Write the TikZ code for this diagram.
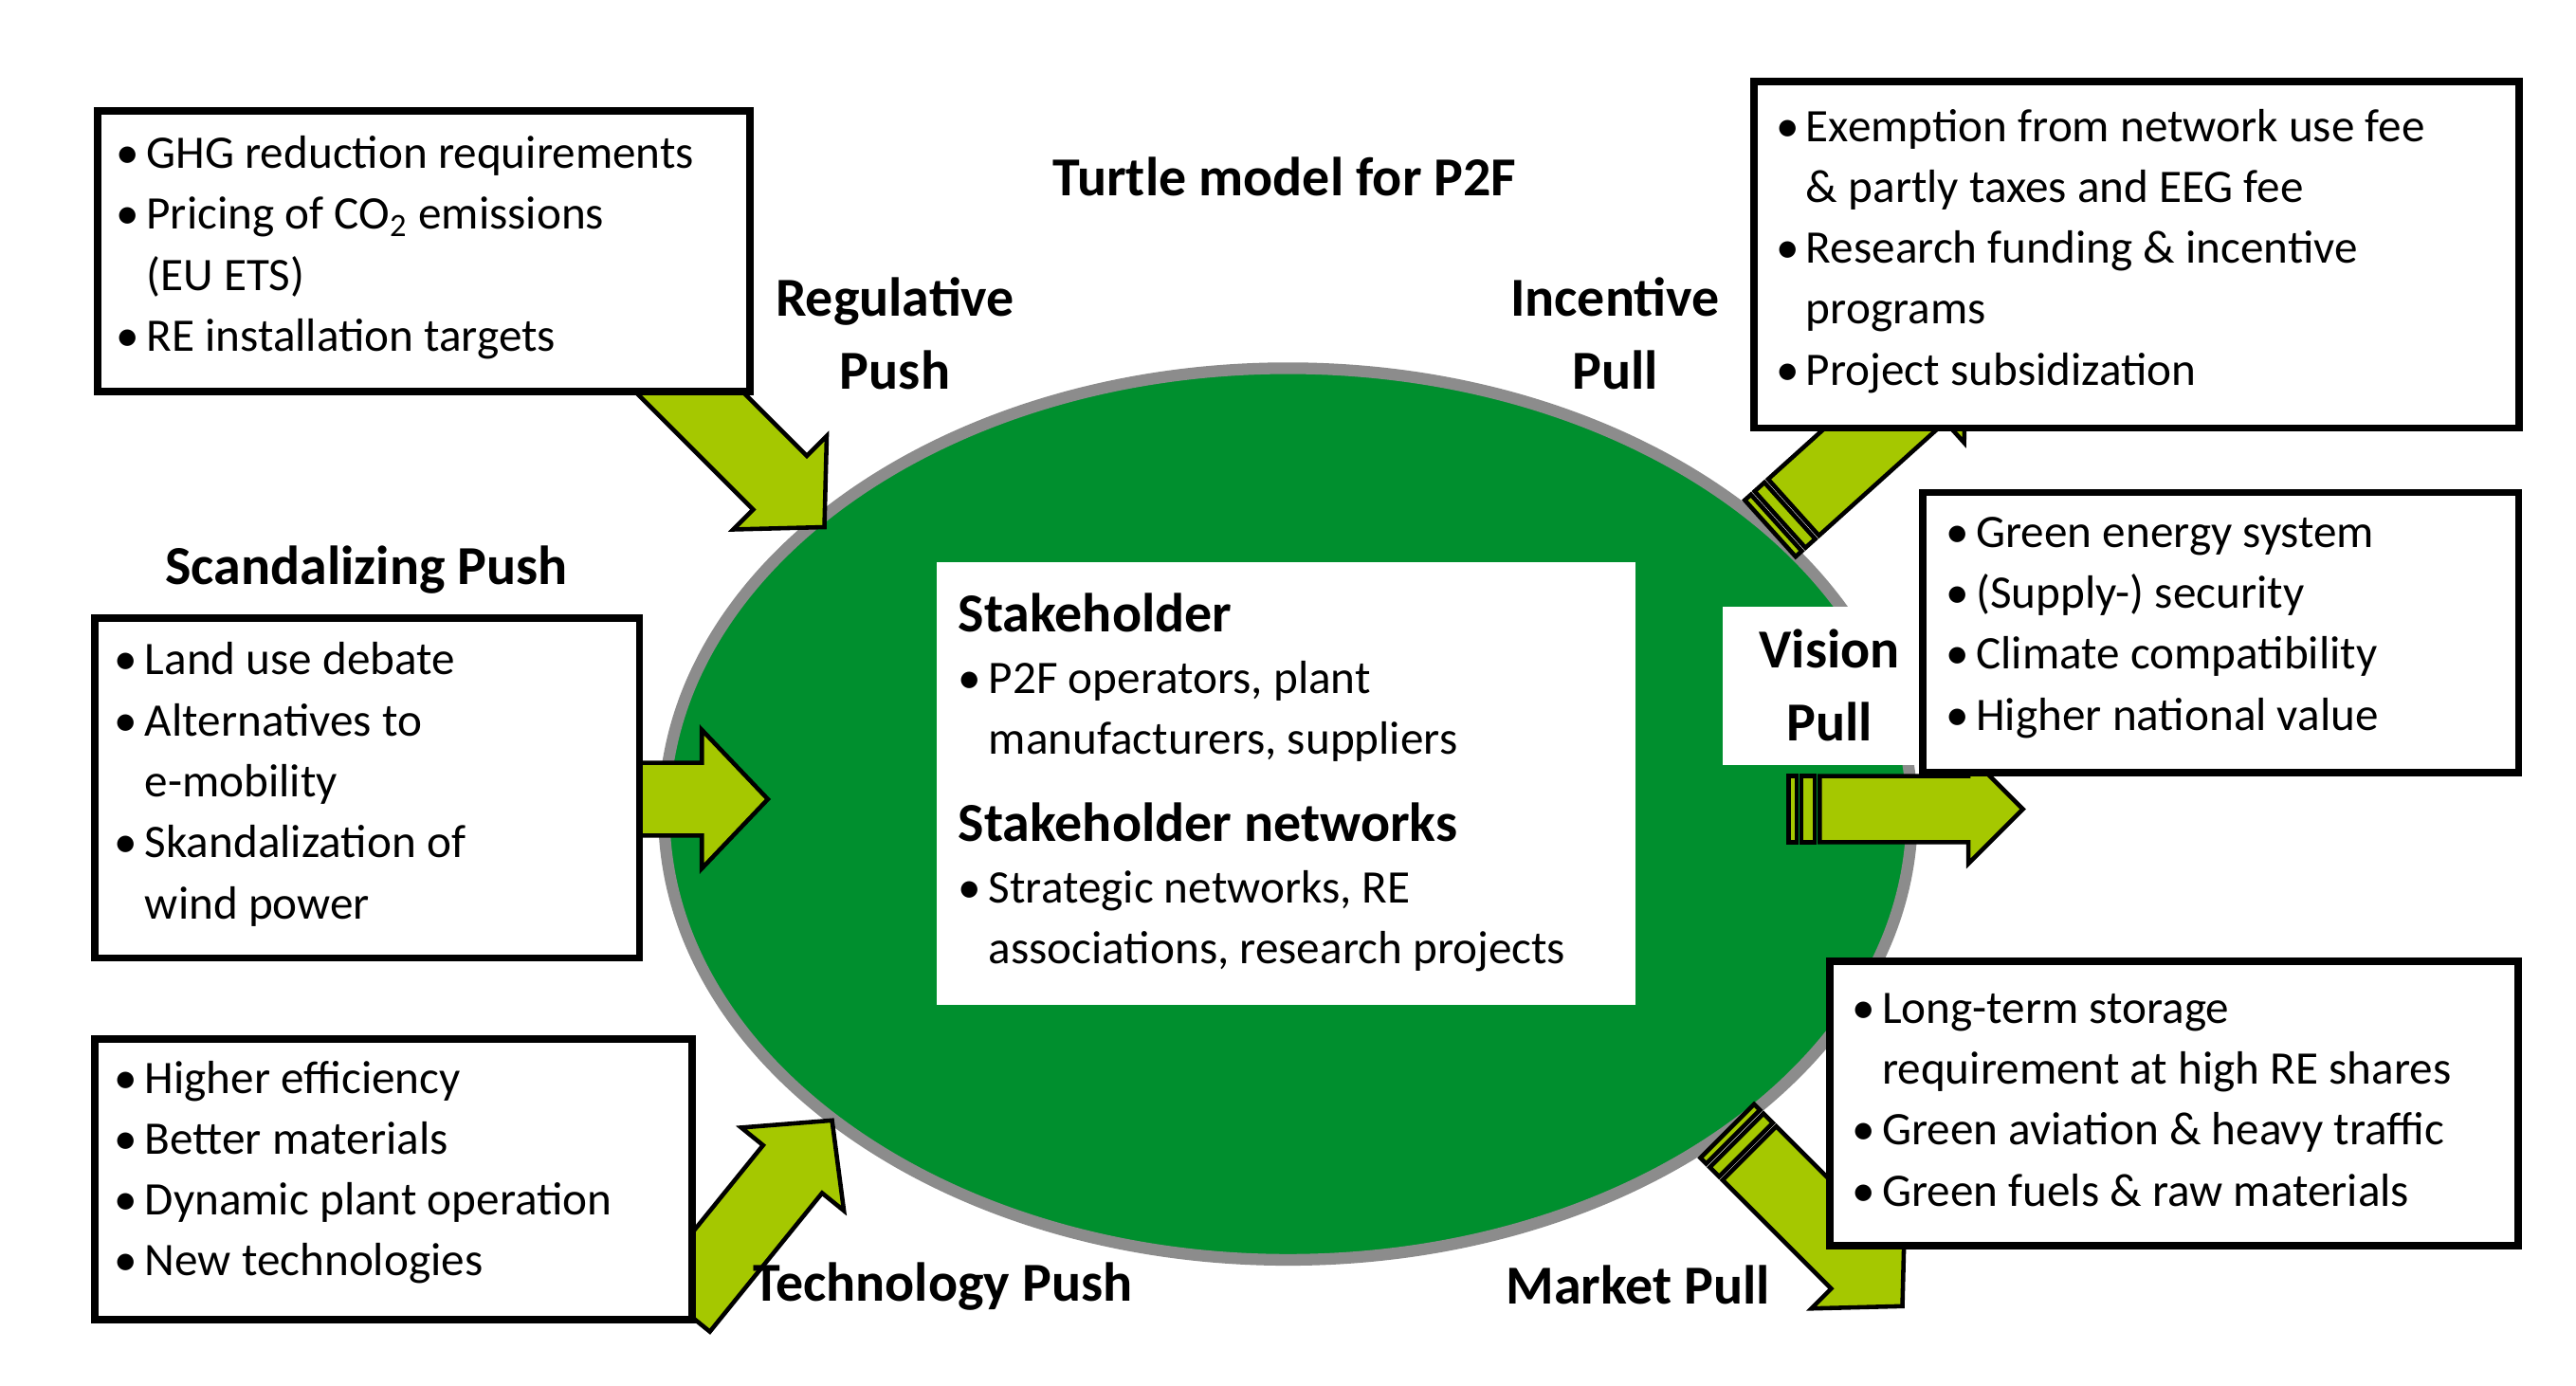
\documentclass[tikz,border=0pt]{standalone}
\usepackage{fontspec}
\setmainfont{Carlito}
\usetikzlibrary{shapes.geometric}
\definecolor{turtle}{HTML}{008F2E}
\definecolor{lime}{HTML}{A5C800}
\definecolor{rim}{HTML}{8C8C8C}
\newcommand{\bi}[1]{\makebox[0.65em][l]{\textbullet}#1}
\newcommand{\cont}[1]{\hspace*{0.65em}#1}
% block arrow: length, shaft width, head width, head length, stripes(1/0)
\newcommand{\blockarrow}[5]{%
  \ifnum#5=1
    \draw[arr] (0,-#2/2) rectangle (5,#2/2);
    \draw[arr] (8,-#2/2) rectangle (16,#2/2);
    \draw[arr] (19,-#2/2)--(#1-#4,-#2/2)--(#1-#4,-#3/2)--(#1,0)--(#1-#4,#3/2)--(#1-#4,#2/2)--(19,#2/2)--cycle;
  \else
    \draw[arr] (0,-#2/2)--(#1-#4,-#2/2)--(#1-#4,-#3/2)--(#1,0)--(#1-#4,#3/2)--(#1-#4,#2/2)--(0,#2/2)--cycle;
  \fi}
\begin{document}
\begin{tikzpicture}[x=0.01742cm,y=-0.01742cm,
  arr/.style={fill=lime,draw=black,line width=1.3pt,line join=miter},
  box/.style={draw=black,line width=2.2pt,fill=white,anchor=north west,inner sep=0pt},
  txt/.style={anchor=west,align=left,inner sep=0pt,font=\fontsize{14}{18.3}\selectfont},
  lbl/.style={font=\fontsize{16.5}{22}\selectfont\bfseries,align=center}]
\useasboundingbox (0,0) rectangle (1560,839);
\fill[white] (0,0) rectangle (1560,839);
% body
\node[ellipse,draw=rim,fill=turtle,line width=3.5pt,minimum width=13.17cm,minimum height=9.41cm,inner sep=0pt] (body) at (780,493) {};
% arrows
\begin{scope}[shift={(396,216)},rotate=-45]\blockarrow{146}{46}{80}{38}{0}\end{scope}
\begin{scope}[shift={(385,484)}]\blockarrow{80}{44}{84}{40}{0}\end{scope}
\begin{scope}[shift={(412,792)},rotate=51]\blockarrow{146}{46}{80}{38}{0}\end{scope}
\begin{scope}[shift={(1072,320)},rotate=42]\blockarrow{160}{46}{80}{38}{1}\end{scope}
\begin{scope}[shift={(1083,490)}]\blockarrow{142}{40}{66}{33}{1}\end{scope}
\begin{scope}[shift={(1046,685)},rotate=-45]\blockarrow{150}{46}{80}{38}{1}\end{scope}
% central box
\node[fill=white,anchor=north west,minimum width=7.37cm,minimum height=4.67cm,inner sep=0pt] (core) at (567,340) {};
\node[txt] (coretext) at (580,474) {%
{\fontsize{16.5}{21}\selectfont\bfseries Stakeholder}\\
\bi{P2F operators, plant}\\
\cont{manufacturers, suppliers}\\[8pt]
{\fontsize{16.5}{21}\selectfont\bfseries Stakeholder networks}\\
\bi{Strategic networks, RE}\\
\cont{associations, research projects}};
% vision pull label
\node[fill=white,anchor=north west,minimum width=2.04cm,minimum height=1.67cm,inner sep=0pt] (visrect) at (1043,367) {};
\node[lbl] (vis) at (1108,415) {Vision\\Pull};
% boxes
\node[box,minimum width=6.88cm,minimum height=2.96cm] (b1) at (57,65) {};
\node[txt] (t1) at (70,150) {\bi{GHG reduction requirements}\\\bi{Pricing of CO\textsubscript{2} emissions}\\\cont{(EU ETS)}\\\bi{RE installation targets}};
\node[box,minimum width=8.07cm,minimum height=3.66cm] (b2) at (1060,47) {};
\node[txt] (t2) at (1075,152) {\bi{Exemption from network use fee}\\\cont{\& partly taxes and EEG fee}\\\bi{Research funding \& incentive}\\\cont{programs}\\\bi{Project subsidization}};
\node[box,minimum width=5.75cm,minimum height=3.59cm] (b3) at (55,372) {};
\node[txt] (t3) at (69,475) {\bi{Land use debate}\\\bi{Alternatives to}\\\cont{e-mobility}\\\bi{Skandalization of}\\\cont{wind power}};
\node[box,minimum width=6.29cm,minimum height=2.96cm] (b4) at (1162,296) {};
\node[txt] (t4) at (1178,380) {\bi{Green energy system}\\\bi{(Supply-) security}\\\bi{Climate compatibility}\\\bi{Higher national value}};
\node[box,minimum width=6.31cm,minimum height=2.96cm] (b5) at (55,627) {};
\node[txt] (t5) at (69,710) {\bi{Higher efficiency}\\\bi{Better materials}\\\bi{Dynamic plant operation}\\\bi{New technologies}};
\node[box,minimum width=7.26cm,minimum height=3.0cm] (b6) at (1106,580) {};
\node[txt] (t6) at (1121,666) {\bi{Long-term storage}\\\cont{requirement at high RE shares}\\\bi{Green aviation \& heavy traffic}\\\bi{Green fuels \& raw materials}};
% labels
\node[lbl] (title) at (778,107) {Turtle model for P2F};
\node[lbl] (reg) at (542,202) {Regulative\\Push};
\node[lbl] (inc) at (978,202) {Incentive\\Pull};
\node[lbl] (sca) at (222,345) {Scandalizing Push};
\node[lbl] (tec) at (571,779) {Technology Push};
\node[lbl] (mar) at (992,778) {Market Pull};
\end{tikzpicture}
\end{document}
